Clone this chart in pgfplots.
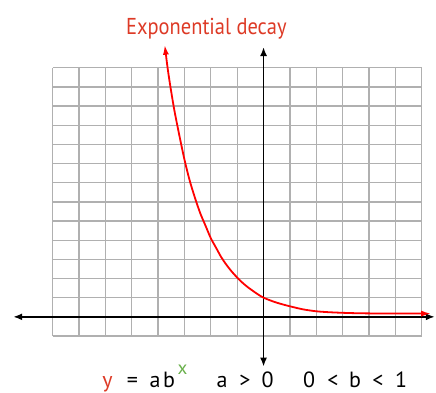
\documentclass[border=0pt]{standalone}
\usepackage{pgfplots}
\pgfplotsset{compat=1.18}
\usepackage{fontspec}
\setmainfont{PT Sans}
\newfontfamily\titlefont[FakeStretch=0.89]{PT Sans}
\usetikzlibrary{arrows.meta}
\definecolor{titlered}{HTML}{DD3A26}
\definecolor{eqgreen}{HTML}{6AB04C}
\definecolor{gridgray}{HTML}{B0B0B0}
\begin{document}
\begin{tikzpicture}[x=1pt,y=1pt]
\useasboundingbox (0,0) rectangle (436,392);
\begin{axis}[
  at={(52.7pt,56pt)}, anchor=south west,
  scale only axis, width=369pt, height=268.3pt,
  xmin=-8, xmax=6, ymin=-1, ymax=13,
  xtick={-8,...,6}, ytick={-1,...,13},
  xticklabels={}, yticklabels={},
  major tick length=0pt,
  grid=major, grid style={line width=1.3pt, color=gridgray},
  axis line style={draw=none},
  clip=false,
]
\addplot[black, line width=1.8pt, {Latex[length=9pt,width=7pt]}-{Latex[length=9pt,width=7pt]}] coordinates {(-9.5,0) (6.5,0)};
\addplot[black, line width=1.8pt, {Latex[length=9pt,width=7pt]}-{Latex[length=9pt,width=7pt]}] coordinates {(0,-2.6) (0,14.08)};
\addplot[red, line width=1.8pt, smooth, {Latex[length=10pt,width=6pt]}-{Latex[length=10pt,width=6pt]}] coordinates {
(-3.75,14.2) (-3.6,12.6) (-3.4,10.9) (-3.2,9.5) (-3.0,8.2) (-2.8,7.1) (-2.6,6.2)
(-2.4,5.4) (-2.2,4.75) (-2.0,4.1) (-1.8,3.6) (-1.6,3.1) (-1.4,2.7) (-1.2,2.35)
(-1.0,2.05) (-0.8,1.78) (-0.6,1.55) (-0.4,1.35) (-0.2,1.16) (0,1.0) (0.25,0.86)
(0.5,0.74) (0.75,0.64) (1,0.55) (1.5,0.39) (2,0.29) (2.5,0.24) (3,0.21) (3.5,0.19)
(4,0.18) (5,0.17) (6.36,0.17)};
\end{axis}
\node[anchor=base, text=titlered, font=\titlefont\fontsize{23}{26}\selectfont] at (206.4,357) {Exponential decay};
\begin{scope}[every node/.style={anchor=base, inner sep=0pt, font=\fontsize{22}{25}\selectfont}]
\node[text=titlered] at (107.5,5) {y};
\node at (132.5,5) {=};
\node at (155,5) {a};
\node at (169,5) {b};
\node[text=eqgreen, font=\fontsize{19}{21}\selectfont] at (182.5,18) {x};
\node at (222,5) {a};
\node at (245,5) {>};
\node at (267.5,5) {0};
\node at (309,5) {0};
\node at (333,5) {<};
\node at (355,5) {b};
\node at (378,5) {<};
\node at (401,5) {1};
\end{scope}
\end{tikzpicture}
\end{document}
